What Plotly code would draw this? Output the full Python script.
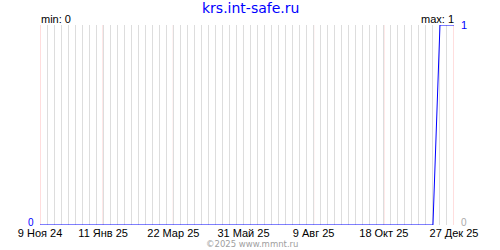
import plotly.graph_objects as go
import pandas as pd

# ---- data ----
start_date = "2024-11-09"
end_date = "2025-12-27"
dates = pd.date_range(start_date, end_date, freq="7D")  # weekly samples
values = [0, 0, 0, 0, 0, 0, 0, 0, 0, 0,
          0, 0, 0, 0, 0, 0, 0, 0, 0, 0,
          0, 0, 0, 0, 0, 0, 0, 0, 0, 0,
          0, 0, 0, 0, 0, 0, 0, 0, 0, 0,
          0, 0, 0, 0, 0, 0, 0, 0, 0, 0,
          0, 0, 0, 0, 0, 0, 0, 1, 1, 1]
tick_dates = ["2024-11-09", "2025-01-11", "2025-03-22", "2025-05-31",
              "2025-08-09", "2025-10-18", "2025-12-27"]
tick_labels = ["9 Ноя 24", "11 Янв 25", "22 Мар 25", "31 Май 25",
               "9 Авг 25", "18 Окт 25", "27 Дек 25"]
title_text = "krs.int-safe.ru"
footer_text = "©2025 www.mmnt.ru"
vmin = min(values)
vmax = max(values)

# ---- layout geometry ----
W, H = 500, 250
L, R, T, B = 40, 46, 25, 25
PW, PH = W - L - R, H - T - B


def px(X):
    return (X - L) / PW


def py(Y):
    return (H - B - Y) / PH


BLUE = "#0000ff"
GRID = "#dddddd"
PINK = "#ffbcbc"
TICKFONT = "Liberation Sans Narrow, Liberation Sans, Arial, sans-serif"

fig = go.Figure()
fig.add_trace(go.Scatter(
    x=dates, y=values, mode="lines",
    line=dict(color=BLUE, width=1),
    hoverinfo="skip", showlegend=False,
))

fig.update_layout(
    width=W, height=H,
    margin=dict(l=L, r=R, t=T, b=B, pad=0),
    paper_bgcolor="white", plot_bgcolor="white",
    showlegend=False,
    xaxis=dict(
        type="date",
        range=[start_date, end_date],
        tickmode="array", tickvals=tick_dates, ticktext=tick_labels,
        tickfont=dict(family=TICKFONT, size=11, color="black"),
        ticks="", showgrid=False,
        minor=dict(tick0=start_date, dtick=7 * 86400000, showgrid=True,
                   gridcolor=GRID, gridwidth=1, ticks=""),
        showline=False, zeroline=False, fixedrange=True,
    ),
    yaxis=dict(
        range=[0, 1],
        tickmode="array", tickvals=[0, 1],
        showticklabels=False, ticks="",
        showgrid=True, gridcolor=GRID, gridwidth=1,
        showline=False, zeroline=False, fixedrange=True,
    ),
)

# pink lines at labelled dates
for d in tick_dates:
    fig.add_shape(type="line", xref="x", yref="paper", x0=d, x1=d, y0=0, y1=1,
                  line=dict(color=PINK, width=1), layer="between")

ann = []
ann.append(dict(text=title_text, x=px(250), y=py(7.5), xanchor="center", yanchor="middle",
                font=dict(family="DejaVu Sans", size=14, color=BLUE)))
ann.append(dict(text=f"min: {vmin}", x=px(41), y=py(19.5), xanchor="left", yanchor="middle",
                font=dict(family=TICKFONT, size=11, color="black")))
ann.append(dict(text=f"max: {vmax}", x=px(454), y=py(19.5), xanchor="right", yanchor="middle",
                font=dict(family=TICKFONT, size=11, color="black")))
ann.append(dict(text=str(vmax), x=px(461), y=py(24.5), xanchor="left", yanchor="middle",
                font=dict(family=TICKFONT, size=11, color=BLUE)))
ann.append(dict(text=str(vmin), x=px(34), y=py(222.5), xanchor="right", yanchor="middle",
                font=dict(family=TICKFONT, size=10, color=BLUE)))
ann.append(dict(text=str(vmin), x=px(461), y=py(222.5), xanchor="left", yanchor="middle",
                font=dict(family=TICKFONT, size=10, color="#aaaaaa")))
ann.append(dict(text=footer_text, x=px(252), y=py(244.5), xanchor="center", yanchor="middle",
                font=dict(family="DejaVu Sans", size=8.5, color="#a0a0a0")))
for a in ann:
    a.update(xref="paper", yref="paper", showarrow=False, borderpad=0, borderwidth=0)
fig.update_layout(annotations=ann)

fig.write_html("out.html", config={"displayModeBar": False})
